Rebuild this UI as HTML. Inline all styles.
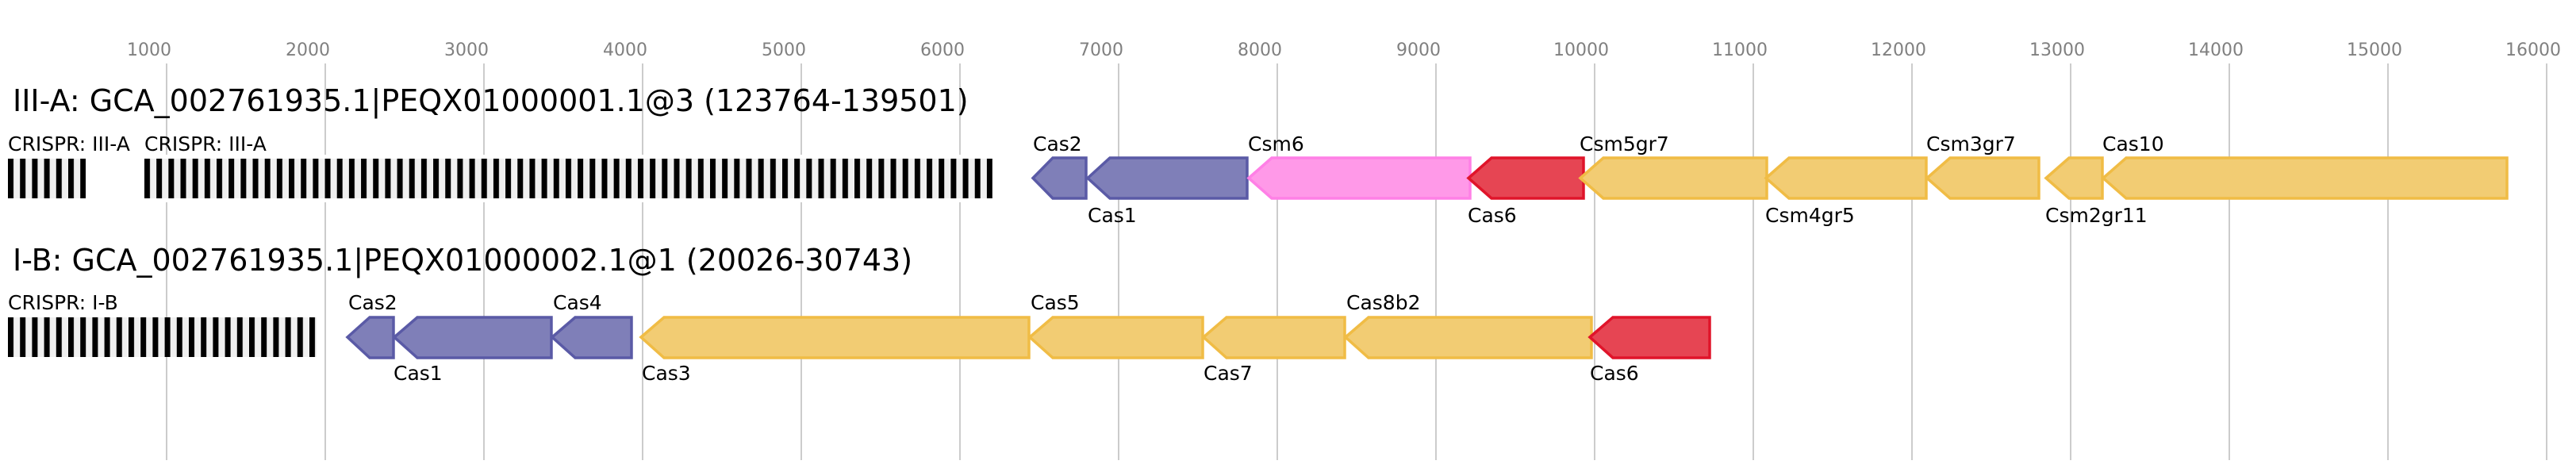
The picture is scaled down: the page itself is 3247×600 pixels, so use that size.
<!DOCTYPE html>
<html><head><meta charset="utf-8"><style>
html,body{margin:0;padding:0;background:#fff;}
svg{display:block;font-family:"DejaVu Sans","Liberation Sans",sans-serif;}
</style></head><body>
<svg width="3247" height="600" viewBox="0 0 3247 600" xmlns="http://www.w3.org/2000/svg">
<defs>
<pattern id="cr1" x="10" y="0" width="15.2" height="10" patternUnits="userSpaceOnUse">
<rect x="0" y="0" width="15.2" height="10" fill="#f0f0f0"/><rect x="0" y="0" width="7" height="10" fill="#000"/>
</pattern>
<pattern id="cr2" x="182" y="0" width="15.17" height="10" patternUnits="userSpaceOnUse">
<rect x="0" y="0" width="15.17" height="10" fill="#f0f0f0"/><rect x="0" y="0" width="7" height="10" fill="#000"/>
</pattern>
</defs>
<g font-size="22" fill="#808080" text-anchor="end">
<text x="216" y="70">1000</text><text x="416" y="70">2000</text><text x="616" y="70">3000</text>
<text x="816" y="70">4000</text><text x="1016" y="70">5000</text><text x="1216" y="70">6000</text>
<text x="1416" y="70">7000</text><text x="1616" y="70">8000</text><text x="1816" y="70">9000</text>
<text x="2028" y="70">10000</text><text x="2228" y="70">11000</text><text x="2428" y="70">12000</text>
<text x="2628" y="70">13000</text><text x="2828" y="70">14000</text><text x="3028" y="70">15000</text>
<text x="3228" y="70">16000</text>
</g>
<g stroke="#000" stroke-opacity="0.2" stroke-width="2">
<line x1="210" y1="80" x2="210" y2="580"/><line x1="410" y1="80" x2="410" y2="580"/>
<line x1="610" y1="80" x2="610" y2="580"/><line x1="810" y1="80" x2="810" y2="580"/>
<line x1="1010" y1="80" x2="1010" y2="580"/><line x1="1210" y1="80" x2="1210" y2="580"/>
<line x1="1410" y1="80" x2="1410" y2="580"/><line x1="1610" y1="80" x2="1610" y2="580"/>
<line x1="1810" y1="80" x2="1810" y2="580"/><line x1="2010" y1="80" x2="2010" y2="580"/>
<line x1="2210" y1="80" x2="2210" y2="580"/><line x1="2410" y1="80" x2="2410" y2="580"/>
<line x1="2610" y1="80" x2="2610" y2="580"/><line x1="2810" y1="80" x2="2810" y2="580"/>
<line x1="3010" y1="80" x2="3010" y2="580"/><line x1="3210" y1="80" x2="3210" y2="580"/>
</g>
<rect x="0" y="195" width="1260" height="60" fill="#fff"/>
<text x="16" y="140" font-size="38">III-A: GCA_002761935.1|PEQX01000001.1@3 (123764-139501)</text>
<text x="16" y="341" font-size="38">I-B: GCA_002761935.1|PEQX01000002.1@1 (20026-30743)</text>
<g font-size="25" fill="#000">
<text x="10" y="190">CRISPR: III-A</text><text x="182" y="190">CRISPR: III-A</text>
<text x="10" y="390">CRISPR: I-B</text>
</g>
<rect x="10" y="200" width="98" height="50" fill="url(#cr1)"/>
<rect x="182" y="200" width="1069" height="50" fill="url(#cr2)"/>
<rect x="10" y="400" width="389" height="50" fill="url(#cr1)"/>
<g stroke-width="3.5" stroke-linejoin="miter">
<polygon points="1302,224.5 1327,199 1369,199 1369,250 1327,250" fill="#7f7fb8" stroke="#5a5aa6"/>
<polygon points="1371,224.5 1399,199 1572,199 1572,250 1399,250" fill="#7f7fb8" stroke="#5a5aa6"/>
<polygon points="1574,224.5 1603,199 1853,199 1853,250 1603,250" fill="#ff99e8" stroke="#ff80e6"/>
<polygon points="1851,224.5 1880,199 1996,199 1996,250 1880,250" fill="#e64553" stroke="#e0142a"/>
<polygon points="1992,224.5 2021,199 2227,199 2227,250 2021,250" fill="#f2cc73" stroke="#f0bc45"/>
<polygon points="2226,224.5 2255,199 2428,199 2428,250 2255,250" fill="#f2cc73" stroke="#f0bc45"/>
<polygon points="2429,224.5 2458,199 2570,199 2570,250 2458,250" fill="#f2cc73" stroke="#f0bc45"/>
<polygon points="2579,224.5 2608,199 2650,199 2650,250 2608,250" fill="#f2cc73" stroke="#f0bc45"/>
<polygon points="2651,224.5 2680,199 3160,199 3160,250 2680,250" fill="#f2cc73" stroke="#f0bc45"/>
<polygon points="438,425 466,400 496,400 496,451 466,451" fill="#7f7fb8" stroke="#5a5aa6"/>
<polygon points="497,425 526,400 695,400 695,451 526,451" fill="#7f7fb8" stroke="#5a5aa6"/>
<polygon points="696,425 725,400 796,400 796,451 725,451" fill="#7f7fb8" stroke="#5a5aa6"/>
<polygon points="808,425 837,400 1297,400 1297,451 837,451" fill="#f2cc73" stroke="#f0bc45"/>
<polygon points="1298,425 1327,400 1516,400 1516,451 1327,451" fill="#f2cc73" stroke="#f0bc45"/>
<polygon points="1517,425 1546,400 1695,400 1695,451 1546,451" fill="#f2cc73" stroke="#f0bc45"/>
<polygon points="1696,425 1725,400 2006,400 2006,451 1725,451" fill="#f2cc73" stroke="#f0bc45"/>
<polygon points="2004,425 2033,400 2155,400 2155,451 2033,451" fill="#e64553" stroke="#e0142a"/>
</g>
<g font-size="25" fill="#000">
<text x="1302" y="190">Cas2</text><text x="1371" y="280">Cas1</text>
<text x="1573" y="190">Csm6</text><text x="1850" y="280">Cas6</text>
<text x="1991" y="190">Csm5gr7</text><text x="2225" y="280">Csm4gr5</text>
<text x="2428" y="190">Csm3gr7</text><text x="2578" y="280">Csm2gr11</text>
<text x="2650" y="190">Cas10</text>
<text x="439" y="390">Cas2</text><text x="496" y="479">Cas1</text>
<text x="697" y="390">Cas4</text><text x="809" y="479">Cas3</text>
<text x="1299" y="390">Cas5</text><text x="1517" y="479">Cas7</text>
<text x="1697" y="390">Cas8b2</text><text x="2004" y="479">Cas6</text>
</g>
</svg>
</body></html>
